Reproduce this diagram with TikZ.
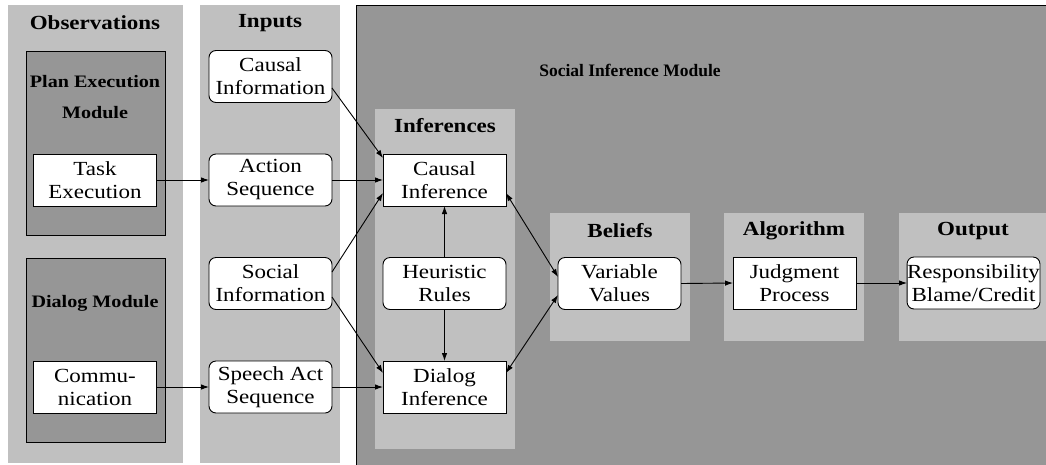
\documentclass[tikz,border=0pt]{standalone}
\usepackage{fontspec}
\setmainfont{Liberation Serif}[FakeStretch=1.15]
\newfontfamily\plainserif{Liberation Serif}
\usetikzlibrary{arrows.meta,calc}
\definecolor{lightpanel}{RGB}{192,192,192}
\definecolor{darkpanel}{RGB}{150,150,150}
\tikzset{
  boxtext/.style={font=\fontsize{20}{23}\selectfont, align=center, inner sep=0pt, outer sep=0pt},
  sharpbox/.style={boxtext, draw=black, line width=0.9pt, fill=white, minimum width=123pt, minimum height=52pt},
  roundbox/.style={sharpbox, rounded corners=7pt},
  paneltitle/.style={font=\fontsize{20}{23}\selectfont\bfseries, inner sep=0pt},
  subtitle/.style={font=\fontsize{17.5}{21}\selectfont\bfseries, inner sep=0pt},
  conn/.style={line width=0.9pt, -{Latex[length=8pt,width=5.5pt]}},
  biconn/.style={line width=0.9pt, {Latex[length=8pt,width=5.5pt]}-{Latex[length=8pt,width=5.5pt]}},
}
\begin{document}
\begin{tikzpicture}[x=1pt,y=-1pt]
\clip (0,0) rectangle (1046,464);
\fill[white] (0,0) rectangle (1046,464);
% panels
\fill[lightpanel] (8,5) rectangle (183,463);
\fill[lightpanel] (200,5) rectangle (340,463);
\filldraw[fill=darkpanel,draw=black,line width=0.9pt] (356,5) rectangle (1060,480);
\filldraw[fill=darkpanel,draw=black,line width=0.9pt] (26,51) rectangle (165,235);
\filldraw[fill=darkpanel,draw=black,line width=0.9pt] (26,258) rectangle (165,442);
\fill[lightpanel] (375,109) rectangle (515,449);
\fill[lightpanel] (550,213) rectangle (690,341);
\fill[lightpanel] (724,213) rectangle (864,341);
\fill[lightpanel] (899,213) rectangle (1060,341);
% titles
\node[paneltitle] (tObs) at (95,23) {Observations};
\node[paneltitle] (tInp) at (270,23) {Inputs};
\node[subtitle] (tPEM1) at (95,82) {Plan Execution};
\node[subtitle] (tPEM2) at (95,113) {Module};
\node[subtitle] (tDM) at (95,303) {Dialog Module};
\node[font=\plainserif\fontsize{17.5}{21}\selectfont\bfseries, inner sep=0pt] (tSIM) at (630,70) {Social Inference Module};
\node[paneltitle] (tInf) at (445,126) {Inferences};
\node[paneltitle] (tBel) at (620,231) {Beliefs};
\node[paneltitle] (tAlg) at (794,231) {Algorithm};
\node[paneltitle] (tOut) at (973,231) {Output};
% boxes
\node[sharpbox] (TE) at (95,180) {Task\\Execution};
\node[sharpbox] (COM) at (95,387) {Commu-\\nication};
\node[roundbox] (CI) at (270.5,76.5) {Causal\\Information};
\node[roundbox] (AS) at (270.5,180) {Action\\Sequence};
\node[roundbox] (SI) at (270.5,283.5) {Social\\Information};
\node[roundbox] (SAS) at (270.5,387) {Speech Act\\Sequence};
\node[sharpbox] (CInf) at (444.5,180) {Causal\\Inference};
\node[roundbox] (HR) at (444.5,283.5) {Heuristic\\Rules};
\node[sharpbox] (DInf) at (444.5,387) {Dialog\\Inference};
\node[roundbox] (VV) at (619.5,283.5) {Variable\\Values};
\node[sharpbox] (JP) at (794.5,283) {Judgment\\Process};
\node[roundbox, minimum width=131pt] (RBC) at (973.5,283) {Responsibility\\Blame/Credit};
% connectors
\draw[conn] (TE.east) -- (AS.west);
\draw[conn] (COM.east) -- (SAS.west);
\draw[conn] ([yshift=-11.5pt]CI.east) -- ([yshift=22pt]CInf.west);
\draw[conn] (AS.east) -- (CInf.west);
\draw[conn] ([yshift=11.5pt]SI.east) -- ([yshift=-13pt]CInf.west);
\draw[conn] ([yshift=-13.5pt]SI.east) -- ([yshift=14pt]DInf.west);
\draw[conn] (SAS.east) -- (DInf.west);
\draw[conn] (HR.north) -- (CInf.south);
\draw[conn] (HR.south) -- (DInf.north);
\draw[biconn] ([yshift=-13pt]CInf.east) -- ([yshift=6.5pt]VV.west);
\draw[biconn] ([yshift=14pt]DInf.east) -- ([yshift=-11.5pt]VV.west);
\draw[conn] (VV.east) -- (JP.west);
\draw[conn] (JP.east) -- (RBC.west);
\end{tikzpicture}
\end{document}
